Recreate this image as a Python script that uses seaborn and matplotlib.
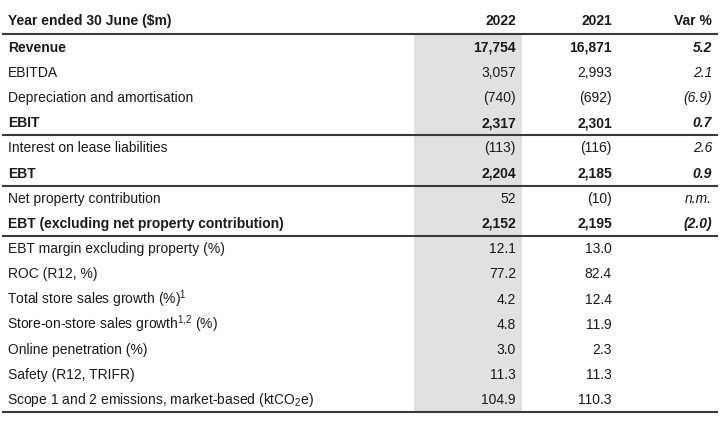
import matplotlib
matplotlib.use("Agg")
import matplotlib.pyplot as plt
import seaborn as sns
import pandas as pd

labels = [
    "Revenue", "EBITDA", "Depreciation and amortisation", "EBIT",
    "Interest on lease liabilities", "EBT", "Net property contribution",
    "EBT (excluding net property contribution)",
    "EBT margin excluding property (%)", "ROC (R12, %)",
    r"Total store sales growth (%)$^{1}$",
    r"Store-on-store sales growth$^{1{,}2}$ (%)",
    "Online penetration (%)", "Safety (R12, TRIFR)",
    r"Scope 1 and 2 emissions, market-based (ktCO$_{2}$e)",
]
col_2022 = ["17,754", "3,057", "(740)", "2,317", "(113)", "2,204", "52", "2,152",
            "12.1", "77.2", "4.2", "4.8", "3.0", "11.3", "104.9"]
col_2021 = ["16,871", "2,993", "(692)", "2,301", "(116)", "2,185", "(10)", "2,195",
            "13.0", "82.4", "12.4", "11.9", "2.3", "11.3", "110.3"]
col_var = ["5.2", "2.1", "(6.9)", "0.7", "2.6", "0.9", "n.m.", "(2.0)",
           "", "", "", "", "", "", ""]
bold_rows = [True, False, False, True, False, True, False, True,
             False, False, False, False, False, False, False]
rule_after = [3, 5, 7]  # rows followed by a dark rule
headers = ["Year ended 30 June ($m)", "2022", "2021", "Var %"]

df = pd.DataFrame({"label": labels, "y2022": col_2022, "y2021": col_2021,
                   "var": col_var, "bold": bold_rows})

sns.set_theme(style="white")
plt.rcParams["font.family"] = ["Liberation Sans", "DejaVu Sans"]
plt.rcParams["mathtext.fontset"] = "custom"
plt.rcParams["mathtext.rm"] = "Liberation Sans"
plt.rcParams["mathtext.it"] = "Liberation Sans:italic"
plt.rcParams["mathtext.bf"] = "Liberation Sans:bold"

fig = plt.figure(figsize=(7.25, 4.23), dpi=100)
ax = fig.add_axes([0, 0, 1, 1])
ax.set_xlim(0, 725)
ax.set_ylim(423, 0)
ax.axis("off")

txt = "#1a1a1a"
line_c = "#3a3a3a"
fs = 10
row0 = 47.0
rh = 25.2
base_off = 4.6

x_label = 8
x_2022 = 516
x_2021 = 612
x_var = 712

n = len(df)
top = row0 - rh / 2
bottom = row0 + (n - 1) * rh + rh / 2

# grey highlight column for current year
ax.add_patch(plt.Rectangle((414, top), 108, bottom - top, color="#e1e1e1", lw=0, zorder=0))
for i in range(1, n):
    yy = row0 + (i - 0.5) * rh
    ax.plot([414, 522], [yy, yy], color="#e8e8e8", lw=0.5, zorder=0.5)

# header
hy = 20 + base_off
for xx, h, ha in zip([x_label, x_2022, x_2021, x_var], headers, ["left", "right", "right", "right"]):
    ax.text(xx, hy, h, ha=ha, va="baseline", fontsize=fs, fontweight="bold", color=txt)

ax.plot([2, 718], [top, top], color=line_c, lw=1.5, solid_capstyle="butt")
ax.plot([2, 718], [bottom, bottom], color=line_c, lw=1.5, solid_capstyle="butt")
for r in rule_after:
    yy = row0 + (r + 0.5) * rh
    ax.plot([2, 718], [yy, yy], color=line_c, lw=1.5, solid_capstyle="butt")

for i, row in df.iterrows():
    yb = row0 + i * rh + base_off
    w = "bold" if row["bold"] else "normal"
    xl = x_label - 1 if "$" in row["label"] else x_label
    ax.text(xl, yb, row["label"], ha="left", va="baseline", fontsize=fs, fontweight=w, color=txt)
    ax.text(x_2022, yb, row["y2022"], ha="right", va="baseline", fontsize=fs, fontweight=w, color=txt)
    ax.text(x_2021, yb, row["y2021"], ha="right", va="baseline", fontsize=fs, fontweight=w, color=txt)
    if row["var"]:
        ax.text(x_var, yb, row["var"], ha="right", va="baseline", fontsize=fs, fontweight=w,
                fontstyle="italic", color=txt)

fig.savefig("out.png", dpi=100)
